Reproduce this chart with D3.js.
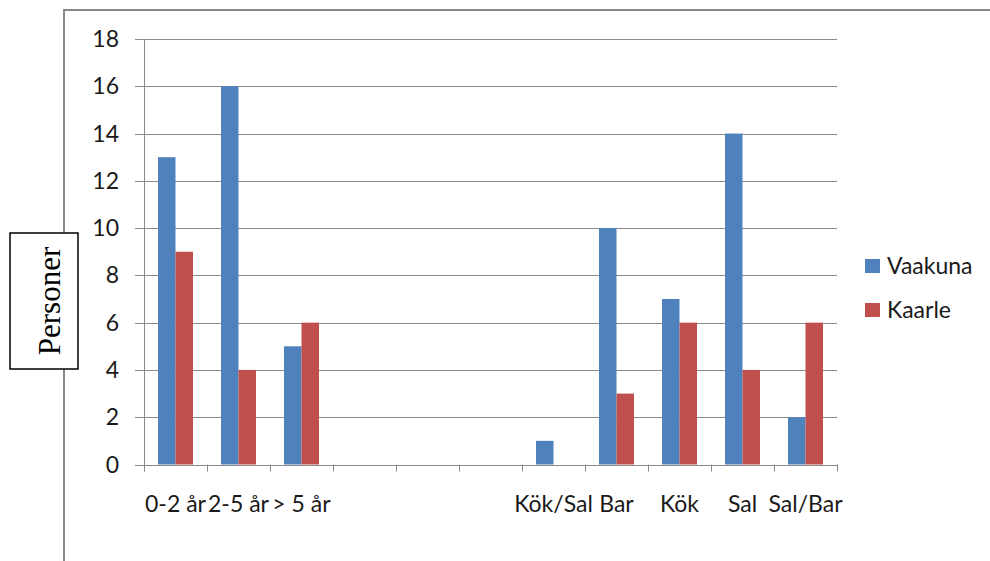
<!DOCTYPE html>
<html>
<head>
<meta charset="utf-8">
<script src="https://cdn.jsdelivr.net/npm/d3@7"></script>
<style>
  html, body { margin: 0; padding: 0; background: #fff; }
  svg { display: block; }
</style>
</head>
<body>
<svg id="chart" width="990" height="561"></svg>
<script>
// Category labels (blank slots separate the two groups)
const categories = ["0-2 år", "2-5 år", "> 5 år", "", "", "", "Kök/Sal", "Bar", "Kök", "Sal", "Sal/Bar"];
const seriesNames = ["Vaakuna", "Kaarle"];
const vaakuna = [13, 16, 5, 0, 0, 0, 1, 10, 7, 14, 2];
const kaarle  = [9, 4, 6, 0, 0, 0, 0, 3, 6, 4, 6];
const yTicks  = [0, 2, 4, 6, 8, 10, 12, 14, 16, 18];
const colors  = ["#4F81BD", "#C0504D"];

const svg = d3.select("#chart");
const gridColor = "#8a8a8a";
const font = "Lato, 'Open Sans', sans-serif";

// Outer chart frame (continues past the page edges)
svg.append("path")
  .attr("d", "M64,600 L64,10 L1000,10")
  .attr("fill", "none")
  .attr("stroke", "#888")
  .attr("stroke-width", 2);

const plot = { left: 144, right: 837, top: 39, bottom: 464.5 };

const idx = categories.map((_, i) => i);
const x = d3.scaleBand().domain(idx).range([plot.left, plot.right]).padding(0);
const y = d3.scaleLinear().domain([0, 18]).range([plot.bottom, plot.top]);

// Excel-style gap width of 160% between groups
const gap = 1.6;
const bw = x.bandwidth();
const barW = bw / (seriesNames.length + gap);
const x1 = d3.scaleBand().domain(seriesNames)
  .range([barW * gap / 2, barW * gap / 2 + barW * seriesNames.length]).padding(0);

// Horizontal gridlines with small left tick stubs
svg.append("g")
  .selectAll("line")
  .data(yTicks.filter(t => t > 0))
  .join("line")
  .attr("x1", plot.left - 9)
  .attr("x2", plot.right)
  .attr("y1", d => Math.round(y(d)) + 0.5)
  .attr("y2", d => Math.round(y(d)) + 0.5)
  .attr("stroke", gridColor)
  .attr("stroke-width", 1);

// Y tick labels
svg.append("g")
  .selectAll("text")
  .data(yTicks)
  .join("text")
  .attr("x", 119)
  .attr("y", d => y(d))
  .attr("dy", "0.35em")
  .attr("text-anchor", "end")
  .attr("font-family", font)
  .attr("font-size", 23)
  .attr("fill", "#1a1a1a")
  .text(d => d);

// Bars
const seriesData = [vaakuna, kaarle];
const groups = svg.append("g")
  .selectAll("g")
  .data(idx)
  .join("g")
  .attr("transform", i => `translate(${x(i)},0)`);

groups.selectAll("rect")
  .data(i => seriesNames.map((s, k) => ({ s, k, v: seriesData[k][i] })).filter(d => d.v > 0))
  .join("rect")
  .attr("x", d => x1(d.s))
  .attr("width", x1.bandwidth())
  .attr("y", d => y(d.v))
  .attr("height", d => y(0) - y(d.v))
  .attr("fill", d => colors[d.k]);

// X axis line and category separators
svg.append("line")
  .attr("x1", plot.left - 9).attr("x2", plot.right)
  .attr("y1", Math.round(plot.bottom) + 0.5).attr("y2", Math.round(plot.bottom) + 0.5)
  .attr("stroke", gridColor);
svg.append("g")
  .selectAll("line")
  .data(d3.range(categories.length + 1))
  .join("line")
  .attr("x1", i => Math.round(plot.left + i * bw) + 0.5)
  .attr("x2", i => Math.round(plot.left + i * bw) + 0.5)
  .attr("y1", plot.bottom)
  .attr("y2", plot.bottom + 7)
  .attr("stroke", gridColor);

// Y axis line
svg.append("line")
  .attr("x1", plot.left + 0.5).attr("x2", plot.left + 0.5)
  .attr("y1", plot.top).attr("y2", plot.bottom + 7)
  .attr("stroke", gridColor);

// Category labels
svg.append("g")
  .selectAll("text")
  .data(idx)
  .join("text")
  .attr("x", i => x(i) + bw / 2)
  .attr("y", 512)
  .attr("text-anchor", "middle")
  .attr("font-family", font)
  .attr("font-size", 23)
  .attr("fill", "#1a1a1a")
  .text(i => categories[i]);

// Legend
const legend = svg.append("g");
seriesNames.forEach((name, k) => {
  const ly = 266 + k * 44;
  legend.append("rect")
    .attr("x", 865).attr("y", ly - 7)
    .attr("width", 15).attr("height", 14)
    .attr("fill", colors[k]);
  legend.append("text")
    .attr("x", 887).attr("y", ly)
    .attr("dy", "0.35em")
    .attr("font-family", font)
    .attr("font-size", 23)
    .attr("fill", "#1a1a1a")
    .text(name);
});

// Y axis title in a boxed label
svg.append("rect")
  .attr("x", 10).attr("y", 233)
  .attr("width", 68).attr("height", 136)
  .attr("fill", "#fff")
  .attr("stroke", "#000")
  .attr("stroke-width", 1.5);
svg.append("text")
  .attr("transform", "translate(60,301) rotate(-90)")
  .attr("text-anchor", "middle")
  .attr("font-family", "'Liberation Serif', 'Times New Roman', serif")
  .attr("font-size", 31)
  .attr("fill", "#000")
  .text("Personer");
</script>
</body>
</html>
